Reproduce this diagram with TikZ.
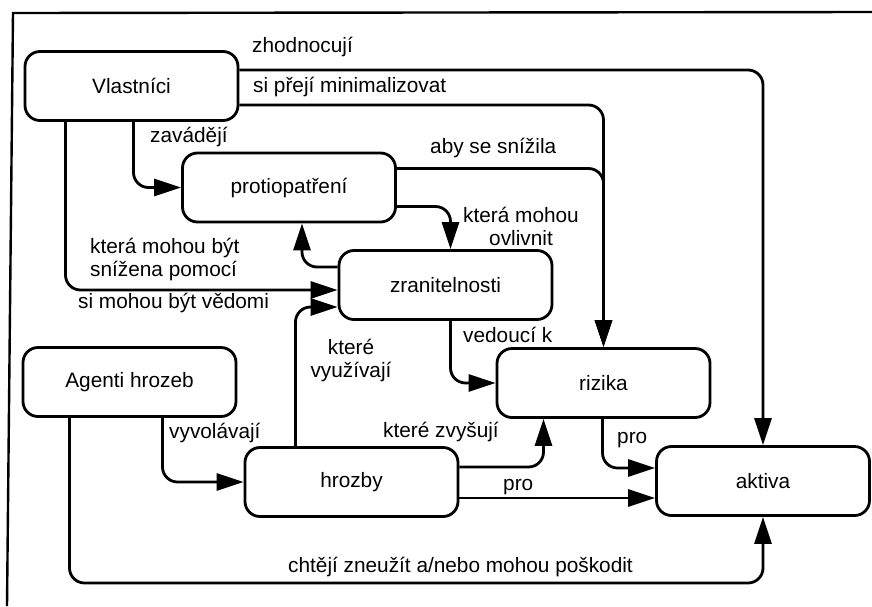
\documentclass[tikz,border=0pt]{standalone}
\usepackage{fontspec}
\setmainfont{Liberation Sans}
\usetikzlibrary{arrows.meta}

\begin{document}
\begin{tikzpicture}[x=1pt,y=-1pt,
  box/.style={draw,line width=2.8pt,rounded corners=15pt,minimum width=213pt,minimum height=69pt,inner sep=0pt,font=\fontsize{20.8}{23}\selectfont},
  lbl/.style={font=\fontsize{20.8}{23}\selectfont,inner sep=0pt},
  link/.style={line width=2.8pt,rounded corners=15pt,-{Triangle[length=27pt,width=17pt]}}]
  \useasboundingbox (0,0) rectangle (872,606);
  \draw[line width=2.4pt] (7,606) -- (13,13) -- (872,12);
  \node[box] (owners) at (131.5,86) {Vlastníci};
  \node[box] (counter) at (289,187.5) {protiopatření};
  \node[box] (vuln) at (445.5,285) {zranitelnosti};
  \node[box] (agents) at (129.5,382) {Agenti hrozeb};
  \node[box] (risks) at (603.5,383) {rizika};
  \node[box] (threats) at (351.5,482) {hrozby};
  \node[box] (assets) at (763,481) {aktiva};
  \coordinate (bottom) at (0,583);
  \draw[link] ([yshift=16pt]owners.east) -| (assets.north);
  \draw[link] ([yshift=-19pt]owners.east) -| (risks.north);
  \draw[link] ([yshift=19pt]counter.east) -| (risks.north);
  \draw[link] ([xshift=2pt]owners.south) |- (counter.west);
  \draw[link] ([xshift=-66pt]owners.south) |- ([yshift=-5pt]vuln.west);
  \draw[link] ([yshift=-19pt]counter.east) -| ([xshift=5pt]vuln.north);
  \draw[link] ([yshift=18pt]vuln.west) -| ([xshift=13pt]counter.south);
  \draw[link] ([xshift=5pt]vuln.south) |- (risks.west);
  \draw[link] ([xshift=-56pt]threats.north) |- ([yshift=-22pt]vuln.west);
  \draw[link] ([xshift=33pt]agents.south) |- (threats.west);
  \draw[link] ([yshift=15pt]threats.east) -| ([xshift=-60pt]risks.south);
  \draw[link] ([yshift=-16pt]threats.east) -- ([yshift=-16pt]threats.east -| assets.west);
  \draw[link] ([xshift=-1pt]risks.south) |- ([yshift=13pt]assets.west);
  \draw[link] ([xshift=-60pt]agents.south) |- (bottom -| assets.south) -- (assets.south);
  \node[lbl,anchor=west] (evaluate) at (252,47) {zhodnocují};
  \node[lbl,anchor=west] (minimise) at (253,87) {si přejí minimalizovat};
  \node[lbl,anchor=west] (impose) at (150,137) {zavádějí};
  \node[lbl,anchor=west] (reduce) at (430,148) {aby se snížila};
  \node[lbl,align=center] (affect) at (521,226) {která mohou\\ovlivnit};
  \node[lbl,anchor=west,align=left] (reduced) at (90,259) {která mohou být\\snížena pomocí};
  \node[lbl,anchor=west] (aware) at (78,303) {si mohou být vědomi};
  \node[lbl,align=center] (exploit) at (351,360) {které\\využívají};
  \node[lbl,anchor=west] (lead) at (463,335) {vedoucí k};
  \node[lbl,anchor=west] (raise) at (169,433) {vyvolávají};
  \node[lbl,anchor=west] (increase) at (383,432) {které zvyšují};
  \node[lbl,anchor=west] (forrisk) at (617,440) {pro};
  \node[lbl,anchor=west] (forthreat) at (503,487) {pro};
  \node[lbl,anchor=west] (abuse) at (288,567) {chtějí zneužít a/nebo mohou poškodit};
\end{tikzpicture}
\end{document}
